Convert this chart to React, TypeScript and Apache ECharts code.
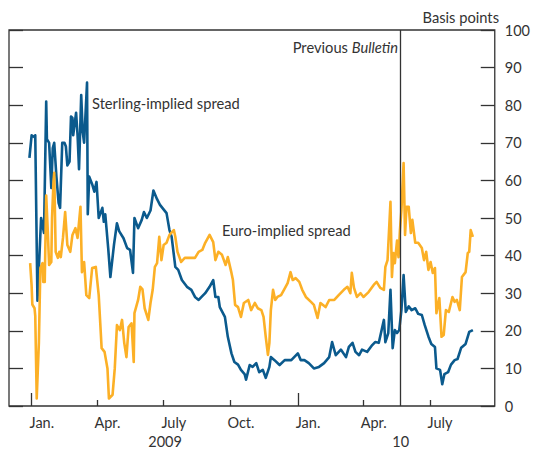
import React, { useEffect, useRef } from "react";
import * as echarts from "echarts";

// Sterling-implied spread (basis points)
const sterling: [string, number][] = [
  ["2008-12-29", 66], ["2009-01-01", 72], ["2009-01-05", 71.5], ["2009-01-06", 72],
  ["2009-01-09", 28], ["2009-01-14", 50], ["2009-01-15", 49], ["2009-01-18", 46],
  ["2009-01-21", 81], ["2009-01-22", 71], ["2009-01-25", 70], ["2009-01-28", 58],
  ["2009-01-30", 68.6], ["2009-02-01", 70], ["2009-02-04", 61], ["2009-02-07", 54],
  ["2009-02-09", 52.7], ["2009-02-12", 70], ["2009-02-15", 70], ["2009-02-17", 69],
  ["2009-02-19", 64], ["2009-02-22", 65], ["2009-02-24", 77], ["2009-02-26", 76.6],
  ["2009-02-27", 72], ["2009-03-03", 78], ["2009-03-05", 72], ["2009-03-07", 63],
  ["2009-03-10", 82.7], ["2009-03-12", 73], ["2009-03-14", 70], ["2009-03-18", 86],
  ["2009-03-19", 51], ["2009-03-21", 61], ["2009-03-25", 59], ["2009-03-28", 57],
  ["2009-03-31", 59.6], ["2009-04-03", 50], ["2009-04-08", 52.7], ["2009-04-10", 49],
  ["2009-04-12", 51], ["2009-04-16", 42], ["2009-04-19", 34.3], ["2009-04-24", 43],
  ["2009-04-28", 48.6], ["2009-05-01", 46.5], ["2009-05-07", 44.6], ["2009-05-12", 42],
  ["2009-05-16", 41.5], ["2009-05-20", 35.4], ["2009-05-22", 50], ["2009-05-27", 47.3],
  ["2009-06-01", 49.5], ["2009-06-04", 51.6], ["2009-06-08", 50], ["2009-06-13", 52],
  ["2009-06-17", 57.3], ["2009-06-22", 55], ["2009-06-26", 53.5], ["2009-07-05", 51.3],
  ["2009-07-09", 46.8], ["2009-07-12", 45], ["2009-07-17", 37], ["2009-07-21", 36.2],
  ["2009-07-26", 33.5], ["2009-08-02", 31.7], ["2009-08-08", 30.9], ["2009-08-13", 29],
  ["2009-08-18", 28.2], ["2009-08-22", 29], ["2009-08-27", 30], ["2009-09-02", 31.7],
  ["2009-09-07", 33.5], ["2009-09-10", 29], ["2009-09-14", 29], ["2009-09-16", 26.3],
  ["2009-09-23", 23.7], ["2009-09-27", 18.4], ["2009-10-02", 14], ["2009-10-06", 11.7],
  ["2009-10-11", 11], ["2009-10-15", 9.6], ["2009-10-20", 8.5], ["2009-10-22", 7],
  ["2009-10-27", 10.9], ["2009-10-31", 10.4], ["2009-11-05", 11.4], ["2009-11-09", 9],
  ["2009-11-14", 9.6], ["2009-11-18", 7.5], ["2009-11-23", 10.4], ["2009-11-25", 13],
  ["2009-11-30", 12.2], ["2009-12-07", 10.9], ["2009-12-14", 12.2], ["2009-12-23", 12.2],
  ["2010-01-01", 14], ["2010-01-05", 12.2], ["2010-01-10", 12.2], ["2010-01-16", 11.4],
  ["2010-01-23", 10], ["2010-01-30", 10.4], ["2010-02-06", 11.4], ["2010-02-13", 13],
  ["2010-02-17", 17], ["2010-02-22", 13.5], ["2010-03-01", 15], ["2010-03-08", 13],
  ["2010-03-12", 15.7], ["2010-03-17", 16.8], ["2010-03-21", 14.4], ["2010-03-26", 13.5],
  ["2010-03-30", 15], ["2010-04-06", 14.4], ["2010-04-13", 16.2], ["2010-04-17", 17],
  ["2010-04-22", 16.8], ["2010-04-29", 22.9], ["2010-05-01", 17], ["2010-05-05", 19.4],
  ["2010-05-08", 30.9], ["2010-05-11", 15.4], ["2010-05-14", 20.2], ["2010-05-17", 19.4],
  ["2010-05-20", 20.2], ["2010-05-23", 25.5], ["2010-05-26", 34.8], ["2010-05-29", 25],
  ["2010-06-02", 26.5], ["2010-06-06", 25.5], ["2010-06-11", 26], ["2010-06-15", 24.5],
  ["2010-06-20", 24.2], ["2010-06-24", 21.5], ["2010-06-29", 18.5], ["2010-07-03", 16.5],
  ["2010-07-08", 15.7], ["2010-07-10", 10], ["2010-07-15", 9.6], ["2010-07-18", 5.8],
  ["2010-07-21", 8.5], ["2010-07-26", 9], ["2010-07-30", 11], ["2010-08-04", 12.2],
  ["2010-08-08", 12.5], ["2010-08-13", 15.5], ["2010-08-19", 16.5], ["2010-08-24", 19.7],
  ["2010-08-29", 20.2],
];

// Euro-implied spread (basis points)
const euro: [string, number][] = [
  ["2008-12-30", 38], ["2009-01-01", 32], ["2009-01-02", 27], ["2009-01-05", 26],
  ["2009-01-06", 24], ["2009-01-08", 2], ["2009-01-11", 17], ["2009-01-13", 36.7],
  ["2009-01-16", 38], ["2009-01-17", 33], ["2009-01-19", 33], ["2009-01-21", 56],
  ["2009-01-23", 47.3], ["2009-01-25", 37.5], ["2009-01-28", 38.3], ["2009-01-29", 50],
  ["2009-01-31", 59.6], ["2009-02-01", 62], ["2009-02-03", 41], ["2009-02-06", 39.4],
  ["2009-02-08", 41], ["2009-02-10", 39.6], ["2009-02-13", 44.7], ["2009-02-16", 51.6],
  ["2009-02-19", 42.8], ["2009-02-23", 41], ["2009-02-26", 45.5], ["2009-03-02", 47.3],
  ["2009-03-05", 44.7], ["2009-03-09", 53], ["2009-03-11", 35.6], ["2009-03-14", 38.3],
  ["2009-03-17", 29.5], ["2009-03-21", 28.7], ["2009-03-25", 36.7], ["2009-03-30", 37],
  ["2009-04-03", 29.5], ["2009-04-07", 15.4], ["2009-04-11", 14.4], ["2009-04-15", 10],
  ["2009-04-17", 2], ["2009-04-22", 3], ["2009-04-25", 10], ["2009-04-28", 21.5],
  ["2009-05-02", 20.2], ["2009-05-05", 22.9], ["2009-05-08", 16.8], ["2009-05-11", 13],
  ["2009-05-14", 21], ["2009-05-18", 22], ["2009-05-21", 11.7], ["2009-05-22", 24.7],
  ["2009-05-27", 28.2], ["2009-05-30", 31.7], ["2009-06-02", 31], ["2009-06-05", 26],
  ["2009-06-10", 22.9], ["2009-06-13", 27.4], ["2009-06-16", 30.9], ["2009-06-19", 37],
  ["2009-06-22", 38], ["2009-06-25", 45], ["2009-06-28", 38.8], ["2009-07-01", 42.8],
  ["2009-07-05", 43.4], ["2009-07-09", 45.5], ["2009-07-15", 46.8], ["2009-07-17", 45],
  ["2009-07-20", 41], ["2009-07-25", 38.3], ["2009-07-30", 39.4], ["2009-08-06", 39.4],
  ["2009-08-13", 39.4], ["2009-08-18", 41], ["2009-08-23", 41.5], ["2009-08-27", 43.4],
  ["2009-09-02", 45.5], ["2009-09-07", 43.6], ["2009-09-10", 38.8], ["2009-09-14", 41],
  ["2009-09-19", 40.2], ["2009-09-24", 37.5], ["2009-09-27", 39.6], ["2009-10-02", 35.4],
  ["2009-10-04", 33.5], ["2009-10-07", 26.9], ["2009-10-11", 26.3], ["2009-10-15", 23.7],
  ["2009-10-19", 27.4], ["2009-10-25", 28.2], ["2009-10-29", 25.5], ["2009-11-03", 27.4],
  ["2009-11-07", 26], ["2009-11-12", 25.5], ["2009-11-15", 23.7], ["2009-11-18", 18.4],
  ["2009-11-21", 13.6], ["2009-11-23", 16.8], ["2009-11-25", 25.5], ["2009-11-28", 30.9],
  ["2009-12-01", 28.2], ["2009-12-04", 29], ["2009-12-09", 29.5], ["2009-12-13", 30.9],
  ["2009-12-18", 32.7], ["2009-12-22", 35.6], ["2009-12-25", 33.5], ["2009-12-29", 34],
  ["2010-01-03", 33], ["2010-01-07", 30.9], ["2010-01-12", 29], ["2010-01-19", 27.7],
  ["2010-01-23", 26.9], ["2010-01-28", 23.4], ["2010-02-01", 27.4], ["2010-02-08", 26.3],
  ["2010-02-13", 28.2], ["2010-02-20", 28.2], ["2010-02-26", 29.5], ["2010-03-05", 30.9],
  ["2010-03-10", 31.7], ["2010-03-14", 30], ["2010-03-16", 35.4], ["2010-03-19", 31.4],
  ["2010-03-23", 29], ["2010-03-28", 30], ["2010-04-01", 29], ["2010-04-08", 30.3],
  ["2010-04-15", 32.2], ["2010-04-19", 33], ["2010-04-24", 31.4], ["2010-04-29", 30.9],
  ["2010-05-01", 37], ["2010-05-04", 38.8], ["2010-05-08", 54.3], ["2010-05-10", 34.3],
  ["2010-05-12", 40.7], ["2010-05-14", 38], ["2010-05-17", 44], ["2010-05-19", 39.6],
  ["2010-05-21", 46.8], ["2010-05-23", 52], ["2010-05-26", 64.6], ["2010-05-28", 45.5],
  ["2010-05-30", 53], ["2010-06-02", 53], ["2010-06-05", 46], ["2010-06-07", 49.5],
  ["2010-06-11", 43.4], ["2010-06-15", 43.4], ["2010-06-20", 42], ["2010-06-23", 38.8],
  ["2010-06-26", 41], ["2010-06-29", 36.2], ["2010-07-02", 38.3], ["2010-07-05", 35.4],
  ["2010-07-08", 36.7], ["2010-07-10", 24.7], ["2010-07-14", 28.7], ["2010-07-17", 18.4],
  ["2010-07-20", 18.9], ["2010-07-23", 25.5], ["2010-07-27", 25], ["2010-08-01", 29],
  ["2010-08-04", 27.7], ["2010-08-07", 28.2], ["2010-08-11", 25.5], ["2010-08-14", 34.3],
  ["2010-08-19", 35.6], ["2010-08-22", 40.7], ["2010-08-24", 41], ["2010-08-26", 46.8],
  ["2010-08-29", 45],
];

// Axis ticks and labels
const quarterStarts = ["2009-04-01", "2009-07-01", "2009-10-01", "2010-04-01", "2010-07-01"];
const yearStarts = ["2009-01-01", "2010-01-01"];
const monthLabelDates = ["2009-01-15", "2009-04-15", "2009-07-15", "2009-10-15", "2010-01-15", "2010-04-15", "2010-07-15"];
const monthNames: Record<number, string> = { 0: "Jan.", 3: "Apr.", 6: "July", 9: "Oct." };
const yearLabelDates = ["2009-07-03", "2010-05-22"];
const yearLabels = ["2009", "10"];
const previousBulletin = "2010-05-22";
const xMin = "2008-12-01";
const xMax = "2010-09-28";

const ts = (s: string) => {
  const [y, m, d] = s.split("-").map(Number);
  return new Date(y, m - 1, d).getTime();
};

const BLUE = "#0B5A8D";
const ORANGE = "#FCB026";
const INK = "#333333";
const FONT = "Lato";
const TICK_FS = 14.5;
const NOTE_FS = 14.7;

export default function App() {
  const ref = useRef<HTMLDivElement>(null);
  useEffect(() => {
    if (!ref.current) return;
    const chart = echarts.init(ref.current, undefined, { renderer: "svg" });
    const yearTs = yearLabelDates.map(ts);
    chart.setOption({
      animation: false,
      textStyle: { fontFamily: FONT },
      grid: {
        left: 9, right: 34, top: 30, bottom: 44,
        show: true, borderColor: INK, borderWidth: 1.3, backgroundColor: "transparent",
      },
      xAxis: [
        {
          type: "value", min: ts(xMin), max: ts(xMax), position: "bottom",
          axisLine: { show: false },
          splitLine: { show: false },
          axisTick: { show: true, inside: true, length: 6, customValues: quarterStarts.map(ts), lineStyle: { color: INK, width: 1.3 } },
          axisLabel: {
            show: true, customValues: monthLabelDates.map(ts), margin: 9,
            color: INK, fontSize: TICK_FS, fontFamily: FONT, hideOverlap: false,
            formatter: (v: number) => monthNames[new Date(v).getMonth()] ?? "",
          },
        },
        {
          type: "value", min: ts(xMin), max: ts(xMax), position: "bottom", gridIndex: 0,
          axisLine: { show: false },
          splitLine: { show: false },
          axisTick: { show: true, inside: true, length: 13, customValues: yearStarts.map(ts), lineStyle: { color: INK, width: 1.3 } },
          axisLabel: {
            show: true, customValues: yearTs, margin: 28,
            color: INK, fontSize: TICK_FS, fontFamily: FONT, hideOverlap: false,
            formatter: (v: number) => yearLabels[yearTs.indexOf(v)] ?? "",
          },
        },
      ],
      yAxis: [
        {
          type: "value", position: "right", min: 0, max: 100, interval: 10,
          axisLine: { show: false }, splitLine: { show: false },
          axisTick: { show: true, inside: true, length: 14, lineStyle: { color: INK, width: 1.3 } },
          axisLabel: { color: INK, fontSize: TICK_FS, fontFamily: FONT, margin: 10 },
        },
        {
          type: "value", position: "left", min: 0, max: 100, interval: 10,
          axisLine: { show: false }, splitLine: { show: false },
          axisTick: { show: true, inside: true, length: 14, lineStyle: { color: INK, width: 1.3 } },
          axisLabel: { show: false },
        },
      ],
      series: [
        {
          name: "Sterling-implied spread", type: "line", xAxisIndex: 0, yAxisIndex: 0,
          data: sterling.map(([d, v]) => [ts(d), v]),
          showSymbol: false, symbol: "none",
          lineStyle: { color: BLUE, width: 2.6, join: "round" },
          markLine: {
            silent: true, symbol: ["none", "none"], label: { show: false },
            lineStyle: { color: INK, width: 1.3, type: "solid" },
            data: [{ xAxis: ts(previousBulletin) }],
          },
        },
        {
          name: "Euro-implied spread", type: "line", xAxisIndex: 0, yAxisIndex: 0,
          data: euro.map(([d, v]) => [ts(d), v]),
          showSymbol: false, symbol: "none",
          lineStyle: { color: ORANGE, width: 2.6, join: "round" },
        },
      ],
      graphic: [
        { type: "text", x: 499, y: 17, style: { text: "Basis points", align: "right", verticalAlign: "middle", fill: INK, font: `${NOTE_FS}px ${FONT}` } },
        {
          type: "text", x: 398, y: 47,
          style: {
            text: "{n|Previous }{i|Bulletin}", align: "right", verticalAlign: "middle",
            rich: {
              n: { fontSize: NOTE_FS, fontFamily: FONT, fill: INK },
              i: { fontSize: NOTE_FS, fontFamily: FONT, fontStyle: "italic", fill: INK },
            },
          },
        },
        { type: "text", x: 92, y: 103, style: { text: "Sterling-implied spread", align: "left", verticalAlign: "middle", fill: INK, font: `${NOTE_FS}px ${FONT}` } },
        { type: "text", x: 222, y: 230, style: { text: "Euro-implied spread", align: "left", verticalAlign: "middle", fill: INK, font: `${NOTE_FS}px ${FONT}` } },
      ],
    });
    return () => chart.dispose();
  }, []);
  return <div ref={ref} style={{ position: "absolute", left: 0, top: 0, width: 533, height: 450, background: "#fff" }} />;
}
